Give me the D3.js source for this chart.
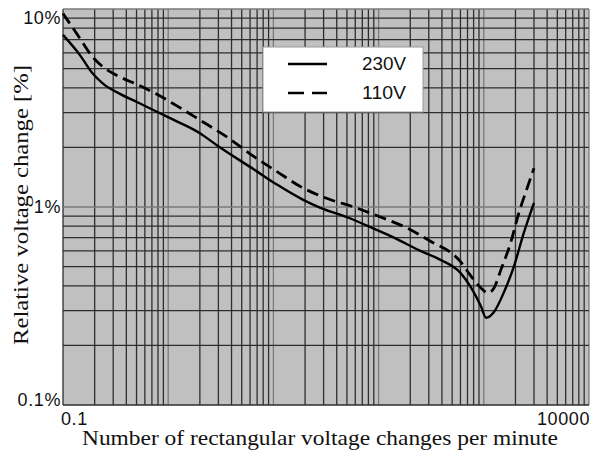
<!DOCTYPE html>
<html>
<head>
<meta charset="utf-8">
<script src="https://cdn.jsdelivr.net/npm/d3@7"></script>
<style>
    body { margin: 0; background: #ffffff; }
    svg { display: block; }
</style>
</head>
<body>
<div id="chart"></div>
<script>
// curves: changes per minute -> relative voltage change in %
const freq_230 = [0.1, 0.145, 0.19, 0.24, 0.33, 0.51, 0.79, 1.22, 2.0, 2.9, 6.5, 11, 19, 28, 51, 84, 140, 250, 390, 600, 750, 940, 1050, 1250, 1550, 1930, 2400, 3000];
const change_230 = [7.4, 5.85, 4.75, 4.2, 3.78, 3.38, 3.02, 2.7, 2.36, 2.05, 1.55, 1.29, 1.09, 0.99, 0.885, 0.79, 0.70, 0.60, 0.54, 0.465, 0.395, 0.315, 0.276, 0.295, 0.37, 0.50, 0.74, 1.05];

const freq_110 = [0.1, 0.145, 0.19, 0.24, 0.33, 0.51, 0.79, 1.2, 2.0, 3.65, 6.5, 11, 19, 33, 58, 104, 190, 330, 485, 600, 750, 940, 1090, 1250, 1450, 1800, 2150, 2600, 3000];
const change_110 = [9.5, 7.1, 5.75, 5.1, 4.6, 4.15, 3.7, 3.25, 2.75, 2.25, 1.8, 1.5, 1.25, 1.1, 1.0, 0.89, 0.78, 0.66, 0.59, 0.53, 0.45, 0.39, 0.368, 0.39, 0.48, 0.66, 0.93, 1.26, 1.57];

const series_names = ["230V", "110V"];

const x_tick_values = [0.1, 10000];
const x_tick_labels = ["0.1", "10000"];
const y_tick_values = [0.1, 1, 10];
const y_tick_labels = ["0.1%", "1%", "10%"];

const x_title = "Number of rectangular voltage changes per minute";
const y_title = "Relative voltage change [%]";

const width = 591;
const height = 453;
const plot_left = 63;
const plot_right = 589;
const plot_top = 9;
const plot_bottom = 405;

const svg = d3.select("#chart").append("svg")
    .attr("width", width)
    .attr("height", height);

const x_scale = d3.scaleLog()
    .domain([0.1, 10000])
    .range([plot_left, plot_right]);

const y_scale = d3.scaleLog()
    .domain([0.1, 10])
    .range([plot_bottom, plot_top]);

// grey plotting field
svg.append("rect")
    .attr("x", plot_left)
    .attr("y", plot_top)
    .attr("width", plot_right - plot_left)
    .attr("height", plot_bottom - plot_top)
    .attr("fill", "#c0c0c0");

function is_decade(v) {
    let l = Math.log10(v);
    return Math.abs(l - Math.round(l)) < 1e-6;
}

// grid, one line for each 1..9 x 10^n
let grid = svg.append("g").attr("id", "grid");

grid.selectAll("line.v")
    .data(x_scale.ticks())
    .enter()
    .append("line")
    .attr("class", "v")
    .attr("x1", d => x_scale(d))
    .attr("x2", d => x_scale(d))
    .attr("y1", plot_top)
    .attr("y2", plot_bottom)
    .attr("stroke", d => is_decade(d) && d !== 0.1 ? "#7a7a7a" : "#2e2e2e")
    .attr("stroke-width", 1.3);

grid.selectAll("line.h")
    .data(y_scale.ticks())
    .enter()
    .append("line")
    .attr("class", "h")
    .attr("x1", plot_left)
    .attr("x2", plot_right)
    .attr("y1", d => y_scale(d))
    .attr("y2", d => y_scale(d))
    .attr("stroke", d => is_decade(d) && d !== 0.1 ? "#7a7a7a" : "#2e2e2e")
    .attr("stroke-width", 1.3);

// curves
const line = d3.line()
    .x(d => x_scale(d[0]))
    .y(d => y_scale(d[1]))
    .curve(d3.curveMonotoneX);

const data_230 = freq_230.map((f, i) => [f, change_230[i]]);
const data_110 = freq_110.map((f, i) => [f, change_110[i]]);

svg.append("path")
    .datum(data_230)
    .attr("d", line)
    .attr("fill", "none")
    .attr("stroke", "#000")
    .attr("stroke-width", 2.4);

svg.append("path")
    .datum(data_110)
    .attr("d", line)
    .attr("fill", "none")
    .attr("stroke", "#000")
    .attr("stroke-width", 2.8)
    .attr("stroke-dasharray", "12,6");

// legend
let legend = svg.append("g").attr("id", "legend");
legend.append("rect")
    .attr("x", 263)
    .attr("y", 47)
    .attr("width", 160)
    .attr("height", 65)
    .attr("fill", "#ffffff")
    .attr("stroke", "#9a9a9a")
    .attr("stroke-width", 1);

series_names.forEach((name, i) => {
    let ly = 64 + i * 29;
    legend.append("line")
        .attr("x1", 288)
        .attr("x2", 327)
        .attr("y1", ly)
        .attr("y2", ly)
        .attr("stroke", "#000")
        .attr("stroke-width", 2.4)
        .attr("stroke-dasharray", i === 1 ? "16,8" : null);
    legend.append("text")
        .attr("x", 362)
        .attr("y", ly + 6)
        .attr("font-family", "Liberation Sans, Arial, sans-serif")
        .attr("font-size", 18)
        .attr("textLength", 44)
        .attr("lengthAdjust", "spacingAndGlyphs")
        .attr("fill", "#111")
        .text(name);
});

// tick labels
svg.selectAll("text.ytick")
    .data(y_tick_values)
    .enter()
    .append("text")
    .attr("class", "ytick")
    .attr("x", 61)
    .attr("y", d => Math.min(Math.max(y_scale(d), 18), 400) + 6)
    .attr("text-anchor", "end")
    .attr("font-family", "Liberation Sans, Arial, sans-serif")
    .attr("font-size", 18)
    .attr("letter-spacing", 0.6)
    .attr("fill", "#111")
    .text((d, i) => y_tick_labels[i]);

svg.selectAll("text.xtick")
    .data(x_tick_values)
    .enter()
    .append("text")
    .attr("class", "xtick")
    .attr("x", (d, i) => i === 0 ? x_scale(d) - 2 : x_scale(d) + 1)
    .attr("y", 425)
    .attr("text-anchor", (d, i) => i === 0 ? "start" : "end")
    .attr("font-family", "Liberation Sans, Arial, sans-serif")
    .attr("font-size", 18)
    .attr("letter-spacing", 0.6)
    .attr("fill", "#111")
    .text((d, i) => x_tick_labels[i]);

// axis titles
svg.append("text")
    .attr("x", 82)
    .attr("y", 445)
    .attr("font-family", "Liberation Serif, Times New Roman, serif")
    .attr("font-size", 21)
    .attr("textLength", 476)
    .attr("lengthAdjust", "spacingAndGlyphs")
    .attr("fill", "#111")
    .text(x_title);

svg.append("text")
    .attr("transform", "translate(28,205) rotate(-90)")
    .attr("text-anchor", "middle")
    .attr("font-family", "Liberation Serif, Times New Roman, serif")
    .attr("font-size", 22)
    .attr("textLength", 280)
    .attr("lengthAdjust", "spacingAndGlyphs")
    .attr("fill", "#111")
    .text(y_title);
</script>
</body>
</html>
